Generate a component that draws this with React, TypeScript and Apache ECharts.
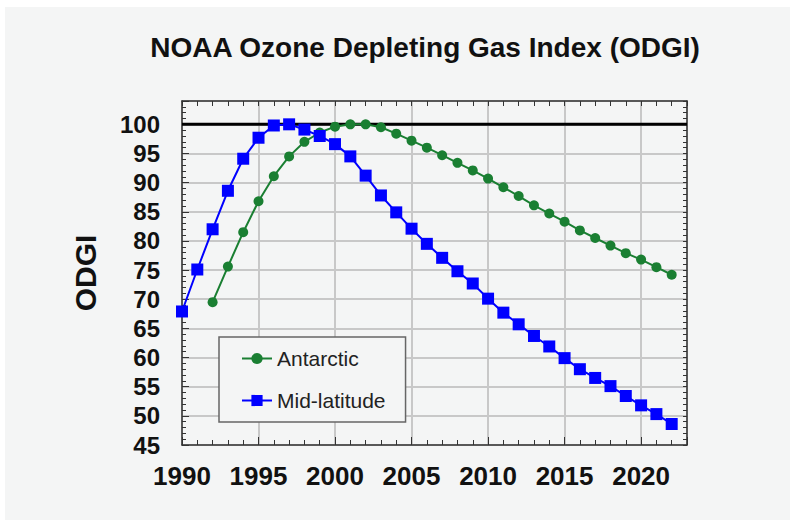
import React, { useEffect, useRef } from "react";
import * as echarts from "echarts";

const TITLE = "NOAA Ozone Depleting Gas Index (ODGI)";
const Y_NAME = "ODGI";

const midLatYears = [
  1990, 1991, 1992, 1993, 1994, 1995, 1996, 1997, 1998, 1999, 2000, 2001, 2002,
  2003, 2004, 2005, 2006, 2007, 2008, 2009, 2010, 2011, 2012, 2013, 2014, 2015,
  2016, 2017, 2018, 2019, 2020, 2021, 2022,
];
const midLatValues = [
  67.9, 75.1, 82.0, 88.6, 94.1, 97.7, 99.8, 100.0, 99.1, 98.0, 96.6, 94.5, 91.2,
  87.8, 84.9, 82.1, 79.5, 77.1, 74.8, 72.7, 70.1, 67.7, 65.7, 63.7, 61.9, 59.9,
  58.0, 56.5, 55.1, 53.4, 51.8, 50.3, 48.6,
];

const antarcticYears = [
  1992, 1993, 1994, 1995, 1996, 1997, 1998, 1999, 2000, 2001, 2002, 2003, 2004,
  2005, 2006, 2007, 2008, 2009, 2010, 2011, 2012, 2013, 2014, 2015, 2016, 2017,
  2018, 2019, 2020, 2021, 2022,
];
const antarcticValues = [
  69.5, 75.6, 81.5, 86.8, 91.1, 94.5, 97.0, 98.6, 99.6, 100.0, 100.0, 99.5, 98.4,
  97.2, 96.0, 94.7, 93.4, 92.1, 90.7, 89.2, 87.7, 86.1, 84.7, 83.3, 81.8, 80.5,
  79.2, 77.9, 76.8, 75.5, 74.2,
];

const referenceYears = [1990, 2023];
const referenceLevel = 100;

const X_MIN = 1990;
const X_MAX = 2023;
const Y_MIN = 45;
const Y_MAX = 104;

const FONT = "'Liberation Sans', Arial, Helvetica, sans-serif";
const BG = "#f4f5f5";
const GREEN = "#1a7f32";
const BLUE = "#0000ff";
const AXIS = "#333333";

export default function App() {
  const ref = useRef<HTMLDivElement>(null);

  useEffect(() => {
    if (!ref.current) return;
    const chart = echarts.init(ref.current, undefined, { renderer: "svg" });

    const minorX = (position: "top" | "bottom", showLine: boolean) => ({
      type: "value",
      position,
      min: X_MIN,
      max: X_MAX,
      interval: 1,
      axisLine: { show: showLine, onZero: false, lineStyle: { color: AXIS, width: 1.5 } },
      axisTick: { show: true, inside: true, length: 5, lineStyle: { color: AXIS, width: 1 } },
      axisLabel: { show: false },
      splitLine: { show: false },
    });
    const minorY = (position: "left" | "right", showLine: boolean) => ({
      type: "value",
      position,
      min: Y_MIN,
      max: Y_MAX,
      interval: 1,
      axisLine: { show: showLine, onZero: false, lineStyle: { color: AXIS, width: 1.5 } },
      axisTick: { show: true, inside: true, length: 4, lineStyle: { color: AXIS, width: 1 } },
      axisLabel: { show: false },
      splitLine: { show: false },
    });

    chart.setOption({
      animation: false,
      backgroundColor: "#ffffff",
      textStyle: { fontFamily: FONT },
      graphic: [
        {
          type: "rect",
          z: -100,
          silent: true,
          shape: { x: 5, y: 7, width: 785, height: 513 },
          style: { fill: BG },
        },
      ],
      title: {
        text: TITLE,
        left: 420,
        top: 28,
        textAlign: "center",
        textStyle: { fontFamily: FONT, fontSize: 28, fontWeight: "bold", color: "#111" },
      },
      legend: {
        data: ["Antarctic", "Mid-latitude"],
        orient: "vertical",
        left: 219,
        top: 337,
        itemWidth: 30,
        itemHeight: 14,
        itemGap: 21,
        padding: [11, 20, 11, 22],
        borderColor: "#666",
        borderWidth: 1.5,
        backgroundColor: BG,
        textStyle: { fontFamily: FONT, fontSize: 21, color: "#222" },
      },
      grid: { left: 182, top: 101, right: 103, bottom: 77, containLabel: false },
      xAxis: [
        {
          type: "value",
          position: "bottom",
          min: X_MIN,
          max: X_MAX,
          interval: 5,
          axisLine: { show: true, onZero: false, lineStyle: { color: AXIS, width: 1.5 } },
          axisTick: { show: true, inside: true, length: 8, lineStyle: { color: AXIS, width: 1 } },
          axisLabel: {
            margin: 18,
            fontFamily: FONT,
            fontSize: 26,
            fontWeight: "bold",
            color: "#111",
            formatter: (v: number) => (v % 5 === 0 ? String(v) : ""),
          },
          splitLine: { show: true, lineStyle: { color: "#c8c8c8", width: 2 } },
        },
        minorX("bottom", false),
        minorX("top", true),
      ],
      yAxis: [
        {
          type: "value",
          position: "left",
          min: Y_MIN,
          max: Y_MAX,
          interval: 5,
          name: Y_NAME,
          nameLocation: "middle",
          nameGap: 82,
          nameTextStyle: { fontFamily: FONT, fontSize: 30, fontWeight: "bold", color: "#111" },
          axisLine: { show: true, onZero: false, lineStyle: { color: AXIS, width: 1.5 } },
          axisTick: { show: true, inside: true, length: 7, lineStyle: { color: AXIS, width: 1 } },
          axisLabel: {
            margin: 22,
            fontFamily: FONT,
            fontSize: 24,
            fontWeight: "bold",
            color: "#111",
            formatter: (v: number) => (v % 5 === 0 ? String(v) : ""),
          },
          splitLine: { show: true, lineStyle: { color: "#c8c8c8", width: 2 } },
        },
        minorY("left", false),
        minorY("right", true),
      ],
      series: [
        {
          name: "Reference",
          type: "line",
          xAxisIndex: 0,
          yAxisIndex: 0,
          z: 1,
          silent: true,
          showSymbol: false,
          symbol: "none",
          data: referenceYears.map((y) => [y, referenceLevel]),
          lineStyle: { color: "#000", width: 3 },
        },
        {
          name: "Antarctic",
          type: "line",
          xAxisIndex: 0,
          yAxisIndex: 0,
          z: 3,
          symbol: "circle",
          symbolSize: 10,
          data: antarcticYears.map((y, i) => [y, antarcticValues[i]]),
          itemStyle: { color: GREEN },
          lineStyle: { color: GREEN, width: 2 },
        },
        {
          name: "Mid-latitude",
          type: "line",
          xAxisIndex: 0,
          yAxisIndex: 0,
          z: 4,
          symbol: "rect",
          symbolSize: 12,
          data: midLatYears.map((y, i) => [y, midLatValues[i]]),
          itemStyle: { color: BLUE },
          lineStyle: { color: BLUE, width: 2 },
        },
      ],
    });

    return () => chart.dispose();
  }, []);

  return (
    <div
      ref={ref}
      style={{ position: "absolute", left: 0, top: 0, width: 790, height: 522 }}
    />
  );
}
